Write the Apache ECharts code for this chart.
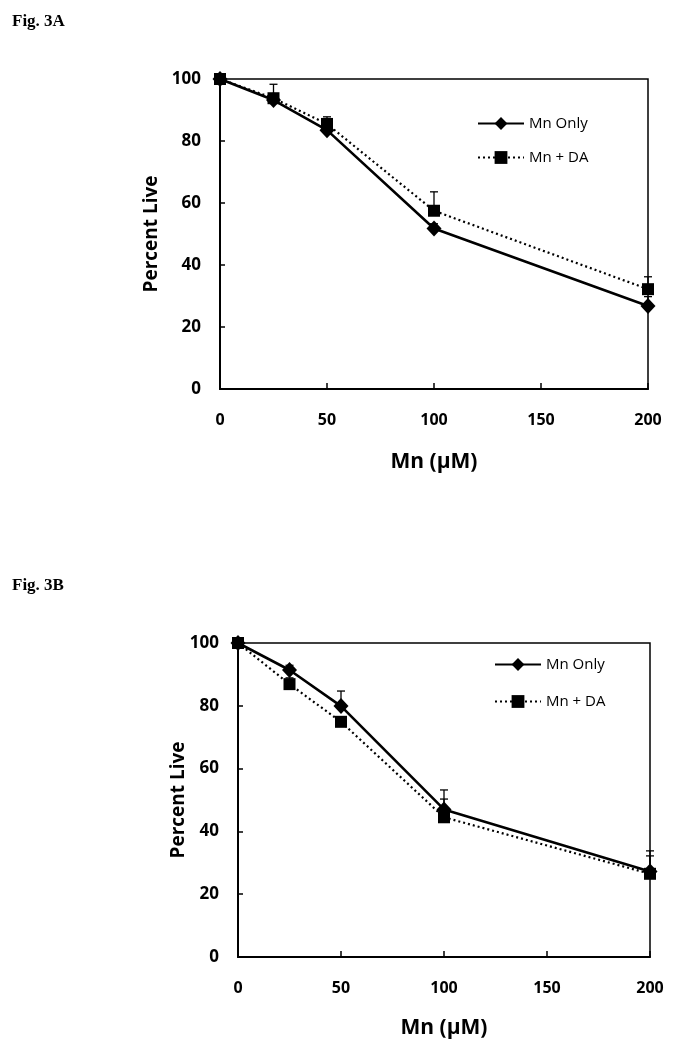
<!DOCTYPE html>
<html><head><meta charset="utf-8">
<script src="https://cdn.jsdelivr.net/npm/echarts@6/dist/echarts.min.js"></script>
<style>html,body{margin:0;padding:0;background:#fff}#c{width:673px;height:1050px}</style>
</head><body><div id="c"></div>
<script>
const xValues = [0, 25, 50, 100, 200];
const xTicks = [0, 50, 100, 150, 200];
const yTicks = [0, 20, 40, 60, 80, 100];
const seriesNames = ['Mn Only', 'Mn + DA'];
// Fig. 3A
const A_mnOnly = [100, 93.2, 83.5, 51.8, 26.8];
const A_mnDA = [100, 93.8, 85.5, 57.5, 32.2];
const A_mnOnlyErr = [0, 1, 1, 1.5, 3];
const A_mnDAErr = [0, 4.5, 2.3, 6.1, 4];
// Fig. 3B
const B_mnOnly = [100, 91.4, 79.9, 47.0, 27.2];
const B_mnDA = [100, 86.9, 74.9, 44.5, 26.5];
const B_mnOnlyErr = [0, 1.5, 4.8, 6.2, 6.6];
const B_mnDAErr = [0, 2, 1.5, 5.8, 5.7];

const FONT = '"Open Sans", "Liberation Sans", sans-serif';
const chart = echarts.init(document.getElementById('c'));

function pts(ys) { return xValues.map((x, i) => [x, ys[i]]); }
function errData(ys, es) { return xValues.map((x, i) => [x, ys[i], es[i]]); }
function errSeries(idx, ys, es) {
  return {
    type: 'custom', xAxisIndex: idx, yAxisIndex: idx, z: 1, silent: true,
    data: errData(ys, es),
    renderItem: function (params, api) {
      const x = api.value(0), y = api.value(1), e = api.value(2);
      if (!e) return null;
      const p0 = api.coord([x, y]);
      const p1 = api.coord([x, y + e]);
      const st = { stroke: '#000', lineWidth: 1.3 };
      return { type: 'group', children: [
        { type: 'line', shape: { x1: p0[0], y1: p0[1], x2: p1[0], y2: p1[1] }, style: st },
        { type: 'line', shape: { x1: p1[0] - 4, y1: p1[1], x2: p1[0] + 4, y2: p1[1] }, style: st }
      ]};
    }
  };
}
function lineSeries(idx, name, ys, dotted) {
  return {
    type: 'line', name: name, xAxisIndex: idx, yAxisIndex: idx, z: 3,
    data: pts(ys),
    symbol: dotted ? 'rect' : 'diamond',
    symbolSize: dotted ? 12 : [15, 16],
    itemStyle: { color: '#000' },
    lineStyle: { color: '#000', width: dotted ? 2.2 : 2.6, type: dotted ? [2, 3] : 'solid' }
  };
}
function xAxis(idx, gap) {
  return {
    type: 'value', gridIndex: idx, min: 0, max: 200, interval: 50,
    name: 'Mn (\u03bcM)', nameLocation: 'middle', nameGap: gap, nameMoveOverlap: false,
    nameTextStyle: { fontFamily: FONT, fontSize: 21, fontWeight: 'bold', color: '#000' },
    axisLine: { show: true, onZero: false, lineStyle: { color: '#000', width: 2 } },
    axisTick: { show: true, inside: true, length: 6, lineStyle: { color: '#000', width: 1.5 } },
    axisLabel: { margin: 23, fontFamily: FONT, fontSize: 16, fontWeight: 'bold', color: '#000',
      formatter: v => xTicks.includes(v) ? String(v) : '' },
    splitLine: { show: false }
  };
}
function yAxis(idx, gap) {
  return {
    type: 'value', gridIndex: idx, min: 0, max: 100, interval: 20,
    name: 'Percent Live', nameLocation: 'middle', nameGap: gap, nameRotate: 90, nameMoveOverlap: false,
    nameTextStyle: { fontFamily: FONT, fontSize: 19, fontWeight: 'bold', color: '#000' },
    axisLine: { show: true, onZero: false, lineStyle: { color: '#000', width: 2 } },
    axisTick: { show: true, inside: true, length: 5, lineStyle: { color: '#000', width: 1.5 } },
    axisLabel: { margin: 19, fontFamily: FONT, fontSize: 17, fontWeight: 'bold', color: '#000',
      formatter: v => yTicks.includes(v) ? String(v) : '' },
    splitLine: { show: false }
  };
}
function legend(top, left, gap) {
  return {
    data: seriesNames, orient: 'vertical', top: top, left: left, itemGap: gap,
    itemWidth: 46, itemHeight: 16, selectedMode: false,
    textStyle: { fontFamily: FONT, fontSize: 15, color: '#000' }
  };
}

chart.setOption({
  animation: false,
  backgroundColor: '#fff',
  title: [
    { text: 'Fig. 3A', left: 7, top: 8, textStyle: { fontFamily: '"Liberation Serif", serif', fontSize: 17, fontWeight: 'bold', color: '#000' } },
    { text: 'Fig. 3B', left: 7, top: 572, textStyle: { fontFamily: '"Liberation Serif", serif', fontSize: 17, fontWeight: 'bold', color: '#000' } }
  ],
  legend: [legend(111, 472, 19), legend(652, 489, 22)],
  grid: [
    { left: 220, right: 25, top: 79, height: 310, show: true, borderColor: '#000', borderWidth: 1.5 },
    { left: 238, right: 23, top: 643, height: 314, show: true, borderColor: '#000', borderWidth: 1.5 }
  ],
  xAxis: [xAxis(0, 63), xAxis(1, 61)],
  yAxis: [yAxis(0, 59), yAxis(1, 50)],
  series: [
    errSeries(0, A_mnOnly, A_mnOnlyErr),
    errSeries(0, A_mnDA, A_mnDAErr),
    lineSeries(0, seriesNames[0], A_mnOnly, false),
    lineSeries(0, seriesNames[1], A_mnDA, true),
    errSeries(1, B_mnOnly, B_mnOnlyErr),
    errSeries(1, B_mnDA, B_mnDAErr),
    lineSeries(1, seriesNames[0], B_mnOnly, false),
    lineSeries(1, seriesNames[1], B_mnDA, true)
  ]
});
</script></body></html>
